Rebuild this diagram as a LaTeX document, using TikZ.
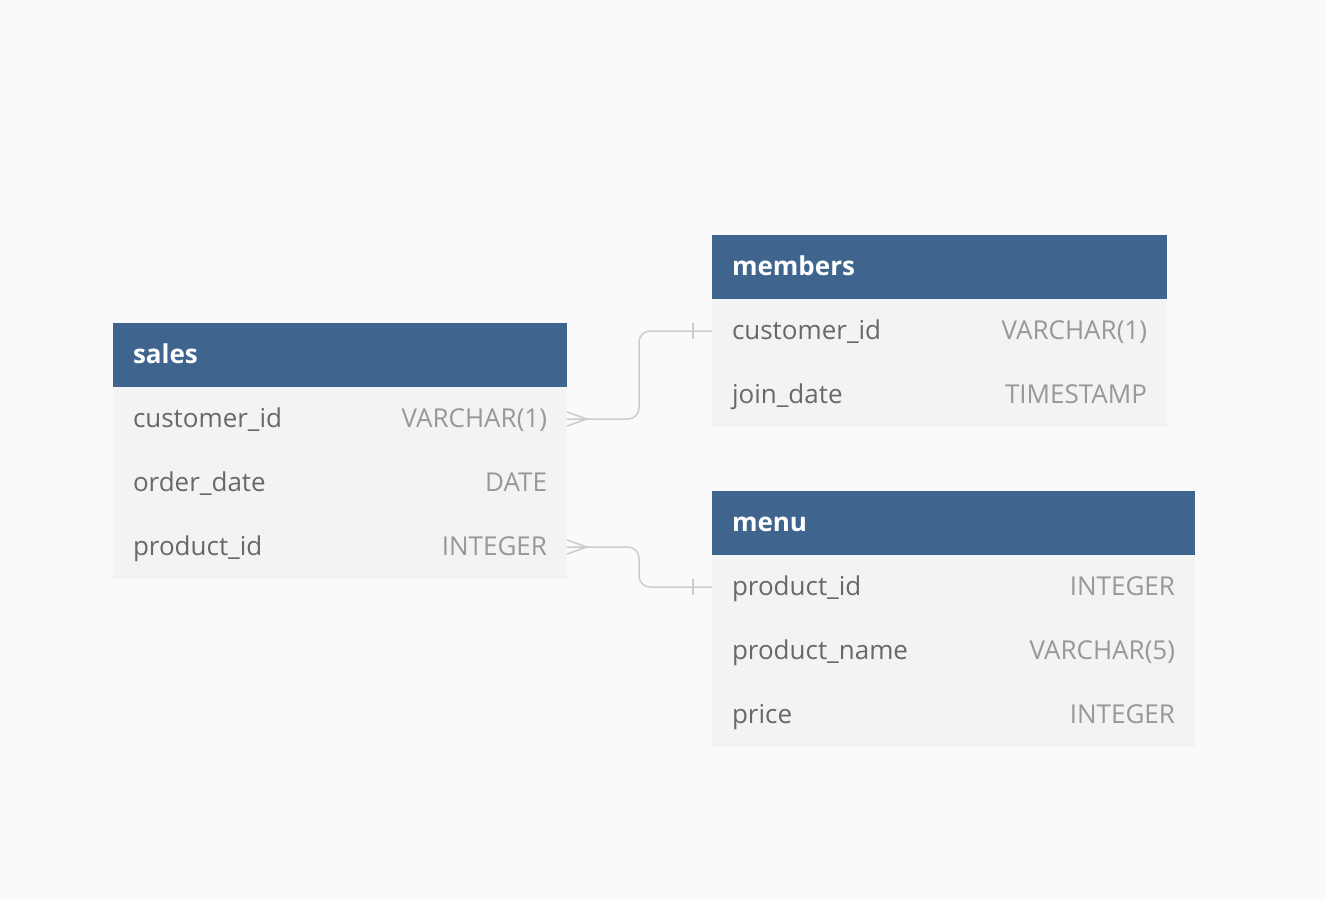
\documentclass[tikz,border=0pt]{standalone}
\usepackage{fontspec}
\setmainfont{Open Sans}
\usetikzlibrary{positioning}
\usetikzlibrary{calc}
\definecolor{hdrblue}{RGB}{63,101,143}
\definecolor{rowgray}{RGB}{243,243,243}
\definecolor{bggray}{RGB}{250,250,250}
\definecolor{fieldtext}{RGB}{104,104,104}
\definecolor{typetext}{RGB}{152,152,152}
\definecolor{linkgray}{RGB}{204,204,204}

\tikzset{
  tblhead/.style={anchor=north west, fill=hdrblue, inner sep=0pt, outer sep=0pt,
    inner xsep=20pt, minimum height=64pt, text height=18pt, text depth=2pt,
    align=left, text=white, font=\fontsize{26}{30}\selectfont\bfseries},
  tblrow/.style={anchor=north west, fill=rowgray, inner sep=0pt, outer sep=0pt,
    inner xsep=20pt, minimum height=64pt, text height=18pt, text depth=2pt,
    align=left, font=\fontsize{26}{30}\selectfont},
  link/.style={draw=linkgray, line width=1.5pt},
}
\newcommand{\fieldrow}[2]{{\color{fieldtext}#1}\hfill{\color{typetext}#2}}

\begin{document}
\begin{tikzpicture}[x=1pt,y=1pt,yscale=-1,xscale=1]
%set diagram size 1326 x 900
\fill[bggray] (0,0) rectangle (1326,900);
\useasboundingbox (0,0) rectangle (1326,900);

%Table: sales
\node[tblhead, text width=414pt] (sales) at (113,323) {sales};
\node[tblrow, text width=414pt] (sales-cid) at (113,387) {\fieldrow{customer\_id}{VARCHAR(1)}};
\node[tblrow, text width=414pt] (sales-date) at (113,451) {\fieldrow{order\_date}{DATE}};
\node[tblrow, text width=414pt] (sales-pid) at (113,515) {\fieldrow{product\_id}{INTEGER}};

%Table: members
\node[tblhead, text width=415pt] (members) at (712,235) {members};
\node[tblrow, text width=415pt] (members-cid) at (712,299) {\fieldrow{customer\_id}{VARCHAR(1)}};
\node[tblrow, text width=415pt] (members-join) at (712,363) {\fieldrow{join\_date}{TIMESTAMP}};

%Table: menu
\node[tblhead, text width=443pt] (menu) at (712,491) {menu};
\node[tblrow, text width=443pt] (menu-pid) at (712,555) {\fieldrow{product\_id}{INTEGER}};
\node[tblrow, text width=443pt] (menu-name) at (712,619) {\fieldrow{product\_name}{VARCHAR(5)}};
\node[tblrow, text width=443pt] (menu-price) at (712,683) {\fieldrow{price}{INTEGER}};

% Connection: sales.customer_id >--| members.customer_id
\draw[link, rounded corners=11pt] (sales-cid.east) -- ++(72,0) |- (members-cid.west);
\draw[link] ($(sales-cid.east)+(0,-7)$) -- ($(sales-cid.east)+(20,0)$) -- ($(sales-cid.east)+(0,7)$);
\draw[link] ($(members-cid.west)+(-19,-8)$) -- ($(members-cid.west)+(-19,8)$);

% Connection: sales.product_id >--| menu.product_id
\draw[link, rounded corners=11pt] (sales-pid.east) -- ++(72,0) |- (menu-pid.west);
\draw[link] ($(sales-pid.east)+(0,-7)$) -- ($(sales-pid.east)+(20,0)$) -- ($(sales-pid.east)+(0,7)$);
\draw[link] ($(menu-pid.west)+(-19,-8)$) -- ($(menu-pid.west)+(-19,8)$);

\end{tikzpicture}
\end{document}
